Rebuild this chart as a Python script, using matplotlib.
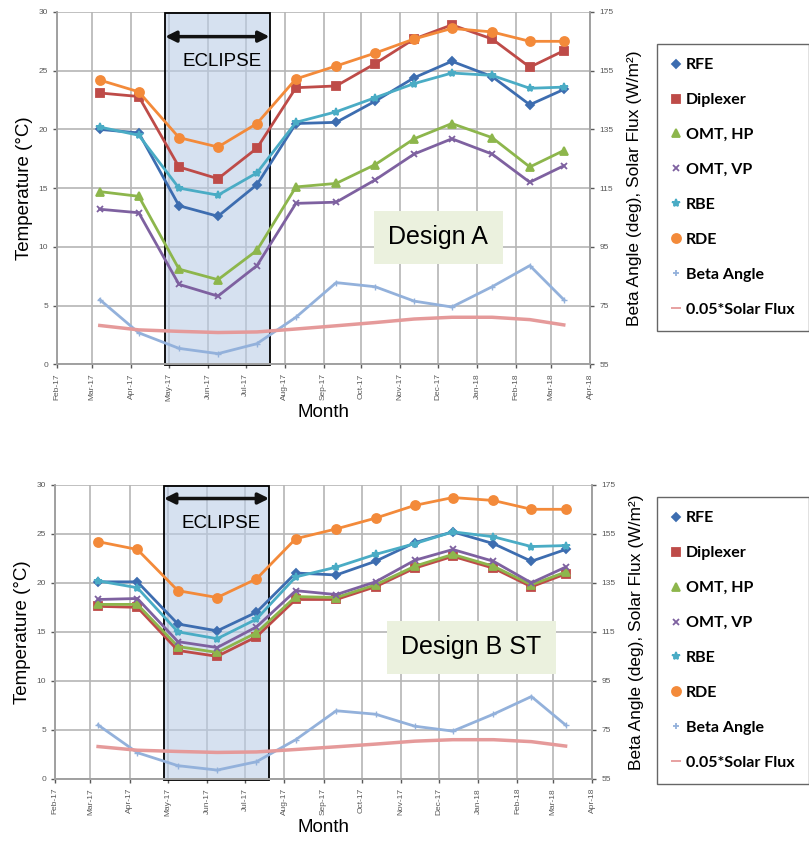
import datetime as dt
import matplotlib
matplotlib.use('Agg')
import matplotlib.pyplot as plt
import matplotlib.dates as mdates
from matplotlib.lines import Line2D
from matplotlib.patches import Rectangle

# data
dates = [dt.date(2017, 3, 7), dt.date(2017, 4, 7), dt.date(2017, 5, 9), dt.date(2017, 6, 9),
         dt.date(2017, 7, 10), dt.date(2017, 8, 10), dt.date(2017, 9, 11), dt.date(2017, 10, 12),
         dt.date(2017, 11, 12), dt.date(2017, 12, 12), dt.date(2018, 1, 13), dt.date(2018, 2, 12),
         dt.date(2018, 3, 11)]

# Design A temperatures (deg C)
rfe_a = [20.0, 19.7, 13.5, 12.6, 15.3, 20.5, 20.6, 22.4, 24.4, 25.8, 24.5, 22.1, 23.4]
dip_a = [23.1, 22.8, 16.8, 15.8, 18.4, 23.55, 23.7, 25.6, 27.7, 28.9, 27.7, 25.3, 26.7]
hp_a = [14.7, 14.3, 8.1, 7.2, 9.7, 15.1, 15.4, 17.0, 19.2, 20.5, 19.3, 16.8, 18.2]
vp_a = [13.2, 12.9, 6.8, 5.8, 8.4, 13.7, 13.8, 15.7, 17.9, 19.2, 17.9, 15.5, 16.9]
rbe_a = [20.2, 19.5, 15.0, 14.4, 16.3, 20.6, 21.5, 22.7, 23.9, 24.8, 24.6, 23.5, 23.6]
rde_a = [24.2, 23.2, 19.3, 18.5, 20.5, 24.3, 25.4, 26.5, 27.7, 28.6, 28.3, 27.5, 27.5]

# Design B ST temperatures (deg C)
rfe_b = [20.1, 20.1, 15.8, 15.1, 17.0, 21.0, 20.8, 22.2, 24.1, 25.2, 24.0, 22.2, 23.4]
dip_b = [17.6, 17.5, 13.1, 12.5, 14.5, 18.3, 18.3, 19.6, 21.5, 22.7, 21.5, 19.6, 20.9]
hp_b = [17.8, 17.8, 13.5, 12.9, 14.9, 18.6, 18.5, 19.8, 21.7, 22.9, 21.7, 19.8, 21.1]
vp_b = [18.3, 18.4, 14.0, 13.4, 15.5, 19.2, 18.8, 20.1, 22.3, 23.4, 22.2, 20.0, 21.6]
rbe_b = [20.2, 19.5, 15.0, 14.3, 16.3, 20.6, 21.6, 22.9, 24.0, 25.2, 24.7, 23.7, 23.8]
rde_b = [24.2, 23.4, 19.2, 18.5, 20.4, 24.5, 25.5, 26.6, 27.9, 28.7, 28.4, 27.5, 27.5]

# right axis series
beta = [77.0, 65.7, 60.4, 58.6, 62.0, 71.0, 82.8, 81.4, 76.5, 74.5, 81.4, 88.6, 77.0]
solar_flux = [1364, 1334, 1324, 1316, 1320, 1340, 1362, 1384, 1408, 1420, 1420, 1404, 1368]

eclipse_start = dt.date(2017, 4, 28)
eclipse_end = dt.date(2017, 7, 20)

names = ['RFE', 'Diplexer', 'OMT, HP', 'OMT, VP', 'RBE', 'RDE', 'Beta Angle', '0.05*Solar Flux']
colors = ['#3D6DB0', '#BE4B48', '#8DB64C', '#7E61A0', '#4AACC5', '#F38A3A', '#93B1DB', '#E59A9A']
markers = ['D', 's', '^', 'x', '*', 'o', '+', '_']
msizes = [4.5, 6, 6, 5, 6, 6.5, 5, 7]

plt.rcParams['font.family'] = ['Liberation Sans', 'DejaVu Sans']

fig = plt.figure(figsize=(8.09, 8.55), dpi=100)


def panel(rect, temps, title, title_xy, box_y, legend_top):
    ax = fig.add_axes(rect)
    ax2 = ax.twinx()

    # eclipse box, semi-transparent face so the grid shows through
    x0 = mdates.date2num(eclipse_start)
    x1 = mdates.date2num(eclipse_end)
    box = Rectangle((x0, -0.1), x1 - x0, 30.0, facecolor=(0.733, 0.804, 0.902, 0.6),
                    edgecolor='black', lw=1.3, zorder=2, clip_on=False)
    ax.add_patch(box)
    ax.annotate('', xy=(x1, box_y[0]), xytext=(x0, box_y[0]),
                arrowprops=dict(arrowstyle='<|-|>', color='#111111', lw=2.5, mutation_scale=16,
                                shrinkA=0, shrinkB=0))
    ax.text((x0 + x1) / 2 + 4, box_y[1], 'ECLIPSE', ha='center', va='center', fontsize=13.5)

    for vals, c, m, s in zip(temps, colors[:6], markers[:6], msizes[:6]):
        ax.plot(dates, vals, color=c, marker=m, ms=s, lw=2, mew=1.3, zorder=3)

    ax2.plot(dates, beta, color=colors[6], marker='+', ms=5, lw=2, zorder=3)
    ax2.plot(dates, [0.05 * f for f in solar_flux], color=colors[7], lw=2.5, zorder=3)

    ax.set_xlim(dt.date(2017, 2, 1), dt.date(2018, 4, 1))
    ax.set_ylim(0, 30)
    ax.set_yticks(range(0, 31, 5))
    ax2.set_ylim(55, 175)
    ax2.set_yticks(range(55, 176, 20))
    ax.xaxis.set_major_locator(mdates.MonthLocator())
    ax.xaxis.set_major_formatter(mdates.DateFormatter('%b-%y'))
    ax.grid(True, color='#B5B5B5', lw=1.2)
    for a in (ax, ax2):
        a.tick_params(labelsize=6, colors='#595959', length=3, width=1)
        for s in a.spines.values():
            s.set_color('#A0A0A0')
            s.set_linewidth(1.2)
        a.spines['top'].set_visible(False)
    plt.setp(ax.get_xticklabels(), rotation=90)

    ax.set_ylabel('Temperature (°C)', fontsize=13.5, labelpad=4)
    ax.set_xlabel('Month', fontsize=13.5, labelpad=2)
    ax2.set_ylabel('Beta Angle (deg), Solar Flux (W/m²)', fontsize=12.5, labelpad=10)

    ax2.text(title_xy[0], title_xy[1], title, transform=ax.transAxes, ha='center', va='center',
             fontsize=18, zorder=5,
             bbox=dict(boxstyle='square,pad=0.58', facecolor='#EBF1DE', edgecolor='none'))

    handles = [Line2D([], [], color=c, marker=m, ls='none', ms=s, mew=1.3)
               for c, m, s in zip(colors, markers, msizes)]
    fig.legend(handles, names, loc='upper left', bbox_to_anchor=(0.812, legend_top),
               prop={'family': 'Lato', 'weight': 'bold', 'size': 11.5}, frameon=True,
               fancybox=False, edgecolor='#404040', labelspacing=1.3, handlelength=0.6,
               handletextpad=0.3, borderpad=0.9, borderaxespad=0)
    return ax


panel([0.0705, 0.574, 0.659, 0.412], [rfe_a, dip_a, hp_a, vp_a, rbe_a, rde_a],
      'Design A', (0.715, 0.36), (27.9, 25.8), 0.949)
panel([0.068, 0.089, 0.664, 0.344], [rfe_b, dip_b, hp_b, vp_b, rbe_b, rde_b],
      'Design B ST', (0.775, 0.447), (28.6, 26.1), 0.419)

fig.savefig('out.png', dpi=100)
